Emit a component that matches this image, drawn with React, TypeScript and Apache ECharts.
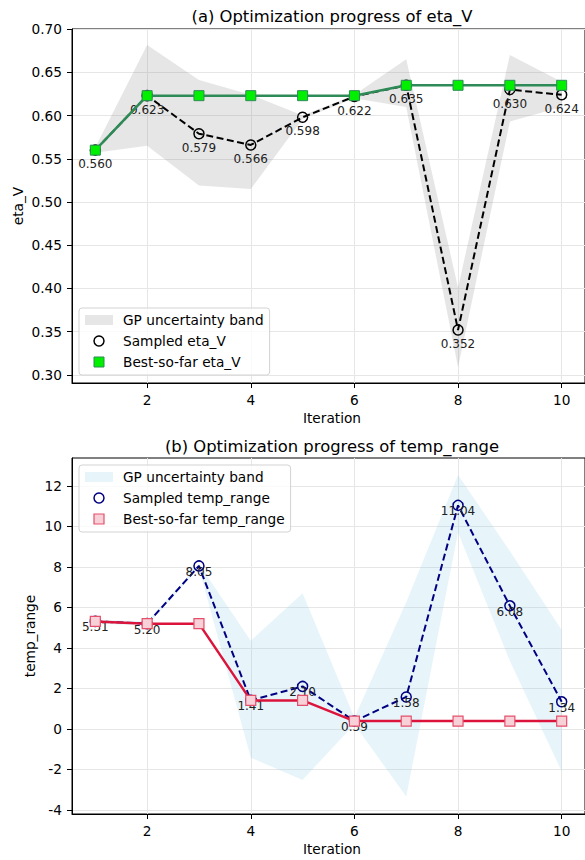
import React, { useEffect, useRef } from 'react';
import * as echarts from 'echarts';

const FONT = 'DejaVu Sans';

// ---- data ----
const iterations = [1, 2, 3, 4, 5, 6, 7, 8, 9, 10];

const etaSampled = [0.560, 0.623, 0.579, 0.566, 0.598, 0.622, 0.635, 0.352, 0.630, 0.624];
const etaBest = [0.560, 0.623, 0.623, 0.623, 0.623, 0.623, 0.635, 0.635, 0.635, 0.635];
const etaUpper = [0.563, 0.6815, 0.641, 0.624, 0.600, 0.624, 0.665, 0.401, 0.670, 0.639];
const etaLower = [0.557, 0.565, 0.519, 0.515, 0.596, 0.620, 0.610, 0.309, 0.593, 0.610];

const tempSampled = [5.31, 5.20, 8.05, 1.41, 2.10, 0.39, 1.58, 11.04, 6.08, 1.34];
const tempBest = [5.31, 5.20, 5.20, 1.41, 1.41, 0.39, 0.39, 0.39, 0.39, 0.39];
const tempUpper = [5.41, 5.30, 8.15, 4.36, 6.70, 0.55, 6.26, 12.54, 8.79, 4.89];
const tempLower = [5.21, 5.10, 7.95, -1.42, -2.52, 0.23, -3.34, 9.70, 3.35, -2.10];

const xTicks = [2, 4, 6, 8, 10];
const etaTicks = [0.30, 0.35, 0.40, 0.45, 0.50, 0.55, 0.60, 0.65, 0.70];
const tempTicks = [-4, -2, 0, 2, 4, 6, 8, 10, 12];

const SQUARE = 'path://M0,0L10,0L10,10L0,10Z';

function bandSeries(name: string, upper: number[], lower: number[], fill: string, idx: number) {
  return {
    type: 'custom',
    name,
    xAxisIndex: idx,
    yAxisIndex: idx,
    coordinateSystem: 'cartesian2d',
    silent: true,
    z: 1,
    itemStyle: { color: fill },
    data: iterations.map((x, i) => [x, lower[i], upper[i]]),
    encode: { x: 0, y: [1, 2] },
    renderItem: (params: any, api: any) => {
      if (params.dataIndex !== 0) return { type: 'group', children: [] };
      const pts: number[][] = [];
      iterations.forEach((x, i) => pts.push(api.coord([x, upper[i]])));
      for (let i = iterations.length - 1; i >= 0; i--) pts.push(api.coord([iterations[i], lower[i]]));
      return { type: 'polygon', shape: { points: pts }, style: { fill, stroke: 'none' } };
    },
  };
}

function xAxisCfg(idx: number) {
  return {
    type: 'value',
    gridIndex: idx,
    min: 0.55,
    max: 10.45,
    axisLine: { show: true, onZero: false, lineStyle: { color: '#000', width: 1 } },
    axisTick: { show: true, inside: false, length: 5, customValues: xTicks, lineStyle: { color: '#000', width: 1 } },
    axisLabel: { customValues: xTicks, margin: 10, color: '#000', fontSize: 13.7, fontFamily: FONT },
    splitLine: { show: true, lineStyle: { color: '#e6e6e6', width: 1 } },
  };
}

function yAxisCfg(idx: number, min: number, max: number, ticks: number[], fmt: (v: number) => string) {
  return {
    type: 'value',
    gridIndex: idx,
    min,
    max,
    axisLine: { show: true, onZero: false, lineStyle: { color: '#000', width: 1 } },
    axisTick: { show: true, inside: false, length: 5, customValues: ticks, lineStyle: { color: '#000', width: 1 } },
    axisLabel: { customValues: ticks, margin: 10, color: '#000', fontSize: 13.7, fontFamily: FONT, formatter: fmt },
    splitLine: { show: true, lineStyle: { color: '#e6e6e6', width: 1 } },
  };
}

function txt(text: string, x: number, y: number, size: number, rotation = 0) {
  return {
    type: 'text',
    x,
    y,
    rotation,
    style: { text, fill: '#000', font: `${size}px "${FONT}"`, textAlign: 'center', textVerticalAlign: 'middle' },
  };
}

export default function App() {
  const ref = useRef<HTMLDivElement>(null);
  useEffect(() => {
    if (!ref.current) return;
    const chart = echarts.init(ref.current, null, { renderer: 'svg' });
    const legendBase = {
      orient: 'vertical',
      padding: [5, 6, 6, 6],
      itemGap: 7,
      itemWidth: 28,
      itemHeight: 10,
      backgroundColor: 'rgba(255,255,255,0.8)',
      borderColor: '#d3d3d3',
      borderWidth: 1,
      borderRadius: 3,
      selectedMode: false,
      symbolKeepAspect: true,
      textStyle: { fontSize: 13.7, fontFamily: FONT, color: '#000', lineHeight: 14, padding: [0, 0, 0, 5] },
      formatter: (n: string) => n.replace(/ \([ab]\)$/, ''),
    };
    const option: any = {
      animation: false,
      grid: [
        { left: 72, top: 29, width: 520.6, height: 354, show: true, borderColor: '#000', borderWidth: 1, backgroundColor: 'transparent' },
        { left: 72, top: 458, width: 520.6, height: 356, show: true, borderColor: '#000', borderWidth: 1, backgroundColor: 'transparent' },
      ],
      xAxis: [xAxisCfg(0), xAxisCfg(1)],
      yAxis: [
        yAxisCfg(0, 0.2907, 0.7001, etaTicks, (v: number) => v.toFixed(2)),
        yAxisCfg(1, -4.2, 13.38, tempTicks, (v: number) => String(v)),
      ],
      legend: [
        {
          ...legendBase,
          left: 79,
          top: 308,
          data: [
            { name: 'GP uncertainty band (a)', icon: 'rect', itemStyle: { color: 'rgba(128,128,128,0.2)', borderWidth: 0 } },
            { name: 'Sampled eta_V', icon: 'circle', itemStyle: { color: 'rgba(0,0,0,0)', borderColor: '#000', borderWidth: 1.5 } },
            { name: 'Best-so-far eta_V', icon: SQUARE, itemStyle: { color: '#00f000', borderColor: '#2e8b57', borderWidth: 1 } },
          ],
        },
        {
          ...legendBase,
          left: 79,
          top: 465,
          data: [
            { name: 'GP uncertainty band (b)', icon: 'rect', itemStyle: { color: 'rgba(135,206,235,0.2)', borderWidth: 0 } },
            { name: 'Sampled temp_range', icon: 'circle', itemStyle: { color: 'rgba(0,0,0,0)', borderColor: '#000080', borderWidth: 1.5 } },
            { name: 'Best-so-far temp_range', icon: SQUARE, itemStyle: { color: '#f8d0d8', borderColor: '#e4506b', borderWidth: 1.2 } },
          ],
        },
      ],
      graphic: [
        txt('(a) Optimization progress of eta_V', 332, 16, 16.4),
        txt('Iteration', 332, 418, 13.7),
        txt('eta_V', 18, 206, 13.7, Math.PI / 2),
        txt('(b) Optimization progress of temp_range', 332, 446, 16.4),
        txt('Iteration', 332, 849, 13.7),
        txt('temp_range', 30, 636, 13.7, Math.PI / 2),
      ],
      series: [
        bandSeries('GP uncertainty band (a)', etaUpper, etaLower, 'rgba(128,128,128,0.2)', 0),
        {
          type: 'line',
          name: 'Sampled eta_V',
          xAxisIndex: 0,
          yAxisIndex: 0,
          z: 3,
          data: iterations.map((x, i) => [x, etaSampled[i]]),
          lineStyle: { color: '#000', width: 2, type: [7, 3.5] },
          symbol: 'circle',
          symbolSize: 10,
          showAllSymbol: true,
          itemStyle: { color: 'rgba(0,0,0,0)', borderColor: '#000', borderWidth: 1.5 },
          label: {
            show: true,
            position: 'inside',
            offset: [0, 14],
            formatter: (p: any) => p.value[1].toFixed(3),
            color: '#222',
            fontSize: 12,
            fontFamily: FONT,
            textBorderWidth: 0,
          },
        },
        {
          type: 'line',
          name: 'Best-so-far eta_V',
          xAxisIndex: 0,
          yAxisIndex: 0,
          z: 4,
          data: iterations.map((x, i) => [x, etaBest[i]]),
          lineStyle: { color: '#2e8b57', width: 2.5 },
          symbol: 'rect',
          symbolSize: 10,
          showAllSymbol: true,
          itemStyle: { color: '#00f000', borderColor: '#2e8b57', borderWidth: 1 },
        },
        bandSeries('GP uncertainty band (b)', tempUpper, tempLower, 'rgba(135,206,235,0.2)', 1),
        {
          type: 'line',
          name: 'Sampled temp_range',
          xAxisIndex: 1,
          yAxisIndex: 1,
          z: 3,
          data: iterations.map((x, i) => [x, tempSampled[i]]),
          lineStyle: { color: '#000080', width: 2, type: [7, 3.5] },
          symbol: 'circle',
          symbolSize: 10,
          showAllSymbol: true,
          itemStyle: { color: 'rgba(0,0,0,0)', borderColor: '#000080', borderWidth: 1.5 },
          label: {
            show: true,
            position: 'inside',
            offset: [0, 6],
            formatter: (p: any) => p.value[1].toFixed(2),
            color: '#222',
            fontSize: 12,
            fontFamily: FONT,
            textBorderWidth: 0,
          },
        },
        {
          type: 'line',
          name: 'Best-so-far temp_range',
          xAxisIndex: 1,
          yAxisIndex: 1,
          z: 4,
          data: iterations.map((x, i) => [x, tempBest[i]]),
          lineStyle: { color: '#dc143c', width: 2.5 },
          symbol: 'rect',
          symbolSize: 10,
          showAllSymbol: true,
          itemStyle: { color: '#f8d0d8', borderColor: '#e4506b', borderWidth: 1.2 },
        },
      ],
    };
    chart.setOption(option);
    return () => chart.dispose();
  }, []);
  return (
    <div
      ref={ref}
      style={{ position: 'absolute', left: 0, top: 0, width: 585, height: 860, background: '#fff' }}
    />
  );
}
